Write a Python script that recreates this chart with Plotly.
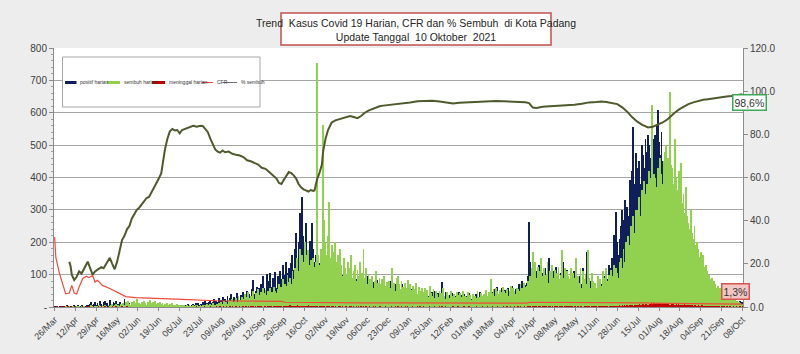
import plotly.graph_objects as go
import pandas as pd

# ---------------- DATA (daily, starting 26 Mar 2020) ----------------
start_date = "2020-03-26"

positif_harian = [
    1,0,2,0,1,3,0, 2,1,0,4,2,1,3, 3,2,5,1,0,4,2, 2,5,1,3,2,4,6,
    3,8,14,5,9,16,7, 12,6,18,9,4,15,20, 8,13,5,22,10,7,17, 11,19,6,9,14,4,8,
    5,26,9,3,7,12,4, 6,2,9,4,3,7,2, 4,1,6,3,2,5,1, 3,5,2,1,4,2,6,
    2,4,1,3,5,2,3, 1,3,2,6,2,4,1, 3,1,5,2,4,3,7, 4,2,6,3,8,5,3,
    6,9,4,11,7,13,5, 10,8,15,6,18,12,9, 14,22,11,17,25,13,19, 16,28,12,21,32,18,24,
    20,35,15,28,40,22,30, 25,18,42,30,22,38,27, 45,32,28,50,36,41,30, 55,83,40,48,62,35,58,
    70,52,95,60,45,102,68, 80,105,62,90,75,108,58, 95,72,110,85,130,100,78, 140,105,120,92,135,160,115,
    180,228,150,200,290,175,340, 220,195,260,170,150,205,190, 258,180,140,160,120,155,135, 110,145,100,125,90,118,95,
    105,85,98,75,110,80,92, 70,95,82,65,100,78,88, 75,92,68,85,100,72,80, 95,70,88,62,78,90,65,
    72,85,60,95,70,58,80, 65,78,55,70,82,60,75, 58,72,50,68,45,62,70, 55,80,48,65,52,70,60,
    89,62,55,70,48,60,52, 58,45,65,40,55,62,38, 50,42,35,60,45,38,52, 40,55,30,48,35,42,28,
    45,32,50,38,25,42,35, 30,78,40,28,45,35,22, 38,25,42,30,20,35,28, 32,45,22,38,28,40,25,
    35,20,42,30,25,38,22, 28,40,32,22,45,30,25, 38,30,48,25,42,35,30, 45,32,55,40,62,35,50,
    42,58,38,52,45,35,60, 48,40,65,52,38,55,45, 58,70,50,80,62,55,68, 75,95,263,140,110,85,120,
    90,110,75,130,95,80,105, 85,120,70,100,150,90,78, 95,110,80,125,70,100,88, 105,75,140,90,65,115,80,
    70,95,60,85,110,75,90, 80,95,60,70,120,85,60, 170,90,65,80,55,75,60, 65,50,80,60,45,70,85,
    95,70,110,85,130,100,120, 150,222,180,294,200,160,210, 250,300,270,330,240,310,280, 392,350,420,556,380,475,430,
    400,450,380,500,470,430,520, 480,532,500,460,550,520,490, 530,560,608,510,470,540,450, 420,380,400,350,370,320,340,
    300,280,310,260,240,270,230, 220,200,190,210,170,180,160, 150,140,130,145,120,110,125, 100,90,95,80,85,70,75,
    65,60,70,55,50,58,45, 48,40,52,38,35,42,30, 32,28,35,25,22,30,20, 22,18,25,15,20,14,18,
    12,15,
]

sembuh_harian = [
    0,0,0,0,0,0,0, 0,0,1,0,0,2,0, 0,1,0,0,2,0,1, 0,3,0,1,0,2,0,
    1,0,4,2,0,3,1, 2,5,0,3,6,1,4, 3,0,7,2,5,8,1, 4,9,2,6,3,10,5,
    12,6,15,8,20,10,7, 14,9,18,11,24,8,13, 10,16,7,20,12,6,15, 9,22,11,14,8,18,10,
    12,7,16,9,13,5,10, 8,12,4,9,6,11,5, 6,3,8,4,7,2,5, 4,6,2,5,3,7,2,
    3,5,1,4,6,2,3, 5,2,7,3,4,8,2, 6,9,4,11,7,5,10, 8,12,6,15,10,18,9,
    15,10,22,12,18,25,14, 20,28,15,35,22,18,30, 25,40,22,32,45,28,35, 30,48,26,42,35,55,38,
    45,36,60,42,52,38,48, 40,58,45,35,62,50,44, 55,70,48,62,85,58,72, 65,100,78,90,70,110,85,
    120,95,150,110,180,130,160, 140,200,120,160,175,130,145, 110,150,125,140,753,160,130, 180,150,562,270,200,160,220,
    325,150,190,120,170,200,140, 160,110,180,130,95,150,120, 100,140,85,120,160,90,110, 130,80,115,95,140,75,105,
    180,90,120,70,100,85,65, 95,60,80,110,55,75,90, 70,85,50,95,65,78,55, 80,60,120,55,75,48,90,
    95,70,55,80,62,50,75, 60,83,45,70,52,65,40, 55,75,40,62,48,35,58, 45,60,38,52,30,65,42,
    35,55,28,48,40,32,50, 42,30,58,35,25,45,38, 28,50,35,22,40,30,45, 38,25,42,30,48,20,35,
    30,45,25,38,22,40,28, 35,28,48,30,25,42,33, 40,30,52,35,45,38,85, 42,55,35,60,48,40,52,
    45,38,62,50,42,55,35, 50,65,42,58,48,40,60, 55,48,70,60,52,75,62, 65,80,60,95,120,171,110,
    140,90,125,80,110,150,95, 120,85,100,140,75,110,95, 130,90,115,80,105,125,85, 100,175,90,120,80,110,95,
    85,120,70,105,90,150,80, 95,75,120,60,110,85,100, 70,175,90,60,105,80,55, 75,60,95,50,85,65,110,
    90,70,120,80,100,75,115, 95,130,85,120,105,90,140, 150,120,180,140,200,165,220, 190,250,210,280,230,300,260,
    300,340,280,360,320,390,350, 380,350,420,400,623,380,410, 400,370,430,390,460,410,380, 450,480,500,460,420,665,440,
    430,380,520,400,360,420,380, 445,320,350,290,371,280,260, 240,300,228,210,250,190,200, 180,156,170,140,160,125,130,
    110,95,100,85,90,75,80, 70,60,65,55,58,45,50, 40,45,35,38,30,32,25, 28,22,25,18,20,15,12,
    10,8,
]

meninggal_harian = [
    0,0,1,0,0,0,1, 0,1,0,0,1,0,0, 1,0,0,1,0,0,0, 0,0,1,0,0,1,0,
    1,0,0,0,1,0,0, 0,1,0,1,0,0,1, 0,0,1,0,0,1,0, 0,1,0,0,0,0,1,
    0,0,0,1,0,0,0, 0,0,0,0,0,0,0, 0,0,0,0,0,0,0, 0,0,0,0,0,0,0,
    0,0,0,0,0,0,0, 0,0,0,0,0,0,0, 0,0,0,0,0,0,0, 0,0,0,0,0,0,0,
    0,0,0,0,1,0,0, 0,0,0,1,0,0,0, 0,1,0,0,0,0,1, 0,0,1,0,0,1,0,
    1,0,0,1,0,1,0, 0,1,0,0,2,0,1, 1,0,2,0,1,0,1, 2,1,0,1,0,2,1,
    1,2,0,1,3,0,2, 2,1,3,0,2,1,2, 3,1,2,2,0,3,1, 2,3,1,4,2,1,3,
    3,2,4,1,3,2,2, 2,3,1,2,4,1,2, 1,2,3,1,2,0,2, 2,1,1,3,0,2,1,
    1,0,2,1,0,1,0, 0,1,1,0,2,0,1, 1,0,0,1,1,0,2, 0,1,0,2,0,1,0,
    1,0,1,0,0,2,0, 0,1,0,1,0,0,1, 1,0,0,0,1,0,0, 0,0,1,0,0,1,0,
    1,0,0,1,0,0,1, 0,1,0,0,0,1,0, 0,0,1,0,1,0,0, 1,0,0,0,0,1,0,
    0,0,1,0,0,0,1, 0,1,0,0,1,0,0, 0,0,0,1,0,0,0, 1,0,0,0,0,1,0,
    0,0,1,0,0,0,0, 0,1,0,0,0,0,1, 0,0,0,1,0,0,0, 1,0,0,0,1,0,0,
    0,0,1,0,0,1,0, 0,1,0,0,1,0,0, 1,0,1,0,0,1,0, 0,1,2,1,0,1,1,
    1,2,0,1,1,0,2, 2,1,1,0,2,1,0, 1,0,2,1,1,0,1, 2,1,0,1,2,1,1,
    1,2,1,0,1,2,0, 1,0,2,1,0,1,2, 2,1,1,0,2,1,1, 1,2,0,1,1,2,1,
    2,1,2,1,0,2,1, 2,3,1,2,3,2,4, 3,4,2,5,3,4,3, 5,4,6,3,7,5,6,
    6,8,5,7,9,6,8, 9,7,10,8,12,9,11, 10,12,9,11,8,13,10, 11,9,12,8,10,7,9,
    8,10,7,9,6,8,7, 6,7,5,8,6,4,5, 5,4,6,3,5,4,3, 4,3,2,4,3,2,3,
    2,3,1,2,2,1,2, 1,2,1,1,0,2,1, 1,0,1,1,0,1,0, 0,1,0,1,0,0,1,
    0,1,
]

# CFR (%) readings: day offset since 26 Mar 2020, value
cfr_day = [0, 1, 4, 7, 9, 12, 14, 16, 18, 20, 23, 26, 28, 31, 33, 35, 39, 45, 50, 54, 58, 66, 77,
           104, 132, 160, 185, 188, 200, 220, 250, 280, 320, 360, 385, 388, 420, 460, 480, 500,
           520, 540, 561]
cfr_val = [32.4, 23.0, 15.5, 10.0, 6.1, 6.5, 10.0, 6.5, 6.0, 9.3, 13.2, 14.3, 13.6, 14.6, 11.6, 12.4,
           10.0, 8.6, 7.1, 5.8, 4.8, 4.3, 4.0, 3.5, 2.9, 2.7, 2.6, 2.2, 2.1, 2.0, 1.9, 1.9, 1.9, 1.8,
           1.8, 2.2, 2.2, 2.1, 1.9, 1.7, 1.5, 1.4, 1.3]

# % sembuh readings: day offset since 26 Mar 2020, value
sembuh_pct_day = [12, 13, 14, 16, 18, 20, 22, 24, 26, 27, 28, 30, 31, 33, 36, 38, 40, 42, 44, 45, 47, 49,
                  51, 53, 55, 57, 59, 61, 63, 65, 67, 69, 71, 73, 75, 77, 79, 81, 83, 85, 87, 88, 90, 92,
                  94, 96, 98, 100, 102, 104, 106, 108, 110, 113, 116, 119, 121, 123, 125, 127, 129, 131,
                  133, 135, 137, 139, 142, 145, 148, 151, 154, 157, 160, 163, 166, 169, 172, 175, 178,
                  181, 183, 185, 187, 189, 191, 193, 195, 197, 199, 201, 203, 205, 207, 209, 211, 212,
                  214, 216, 218, 219, 221, 223, 226, 229, 232, 235, 238, 241, 244, 247, 250, 253, 256,
                  259, 262, 265, 268, 271, 274, 277, 280, 285, 290, 296, 302, 308, 314, 320, 325, 330,
                  336, 342, 348, 354, 360, 366, 372, 378, 384, 387, 390, 393, 398, 404, 410, 416, 420,
                  424, 430, 436, 442, 446, 450, 455, 459, 463, 467, 471, 475, 479, 484, 488, 492, 496,
                  500, 503, 506, 510, 514, 517, 521, 525, 529, 533, 538, 543, 548, 552, 556, 561]
sembuh_pct_val = [21.0, 19.0, 15.0, 12.5, 14.0, 16.5, 15.5, 18.0, 20.5, 21.0, 19.5, 16.0, 15.0, 16.5,
                  17.5, 18.5, 18.0, 20.0, 22.5, 22.8, 20.0, 17.5, 21.0, 26.0, 31.0, 33.0, 36.0, 37.5,
                  41.0, 43.0, 45.0, 46.0, 47.5, 49.0, 50.5, 51.0, 53.0, 55.0, 57.0, 59.5, 62.0, 66.0,
                  73.0, 78.0, 81.4, 82.5, 81.8, 82.0, 80.5, 82.0, 82.5, 83.0, 83.5, 84.0, 83.5, 84.0,
                  83.8, 82.5, 81.0, 78.0, 75.5, 73.0, 72.0, 71.5, 72.5, 71.7, 72.0, 71.0, 70.5, 70.2,
                  69.5, 68.0, 67.5, 66.8, 66.0, 64.5, 64.0, 62.5, 61.0, 59.5, 57.5, 57.0, 59.0, 61.0,
                  62.5, 62.0, 61.0, 59.5, 57.0, 55.5, 54.5, 54.0, 53.5, 54.2, 53.8, 54.0, 59.0, 62.0,
                  66.0, 72.0, 78.0, 82.0, 85.5, 86.5, 87.0, 87.5, 88.0, 88.5, 88.0, 87.5, 88.5, 90.0,
                  91.0, 91.7, 92.2, 93.0, 93.3, 93.5, 93.4, 93.8, 94.0, 94.2, 94.8, 95.3, 95.5, 95.6,
                  95.2, 94.6, 94.3, 94.6, 94.8, 94.7, 95.1, 95.4, 95.5, 95.3, 95.2, 95.0, 94.9, 94.5,
                  92.4, 92.2, 92.8, 93.0, 93.2, 93.5, 93.3, 93.7, 94.2, 94.8, 95.0, 95.2, 95.0, 94.6,
                  94.0, 92.5, 90.5, 88.0, 86.0, 84.5, 83.2, 83.5, 84.5, 85.5, 87.0, 88.8, 90.1, 91.8,
                  93.0, 94.0, 94.8, 95.5, 96.0, 96.3, 96.8, 97.2, 97.5, 97.8, 98.2, 98.6]

title_lines = ["Trend  Kasus Covid 19 Harian, CFR dan % Sembuh  di Kota Padang",
               "Update Tanggal  10 Oktober  2021"]
legend_labels = ["positif harian", "sembuh harian", "meninggal harian", "CFR", "% sembuh"]
last_sembuh_label = "98,6%"
last_cfr_label = "1,3%"

# ---------------- COLOURS ----------------
c_pos = "#0e1f5b"
c_semb = "#92d050"
c_men = "#c00000"
c_cfr = "#f04a3a"
c_pct = "#4e5a2c"
FONT = "Liberation Sans Narrow, Liberation Sans, Arial"

base = pd.Timestamp(start_date)
dates = pd.date_range(base, periods=len(positif_harian), freq="D")
cfr_dates = [base + pd.Timedelta(days=d) for d in cfr_day]
pct_dates = [base + pd.Timedelta(days=d) for d in sembuh_pct_day]
end_date = dates[-1]
day_ms = 86400000

fig = go.Figure()
fig.add_trace(go.Bar(x=dates, y=positif_harian, name=legend_labels[0], marker_color=c_pos,
                     marker_line_width=0, width=day_ms * 0.75))
fig.add_trace(go.Bar(x=dates[:len(sembuh_harian)], y=sembuh_harian, name=legend_labels[1],
                     marker_color=c_semb, marker_line_width=0, width=day_ms * 0.7))
fig.add_trace(go.Bar(x=dates[:len(meninggal_harian)], y=meninggal_harian, name=legend_labels[2],
                     marker_color=c_men, marker_line_width=0, width=day_ms * 0.25))
fig.add_trace(go.Scatter(x=cfr_dates, y=cfr_val, name=legend_labels[3], mode="lines",
                         line=dict(color=c_cfr, width=1.2), yaxis="y2"))
fig.add_trace(go.Scatter(x=pct_dates, y=sembuh_pct_val, name=legend_labels[4], mode="lines",
                         line=dict(color=c_pct, width=2), yaxis="y2"))

L, R, T, B = 54, 57, 48, 47
W, H = 800, 354
pw, ph = W - L - R, H - T - B


def px(x):
    return (x - L) / pw


def py(y):
    return (H - B - y) / ph


tickvals = pd.date_range(base, end_date, freq="17D")

fig.update_layout(
    width=W, height=H, margin=dict(l=L, r=R, t=T, b=B, autoexpand=False),
    paper_bgcolor="#ededed", plot_bgcolor="white",
    barmode="overlay", bargap=0, showlegend=False,
    font=dict(family=FONT, color="#404040", size=10),
    xaxis=dict(type="date", range=[base - pd.Timedelta(hours=12), end_date + pd.Timedelta(hours=12)],
               tickvals=list(tickvals), tickformat="%d/%b", tickangle=-45,
               tickfont=dict(size=9, color="#404040"), showgrid=False,
               showline=True, linecolor="#8c8c8c", ticks="outside", ticklen=3, tickcolor="#8c8c8c"),
    yaxis=dict(range=[0, 800], tickvals=list(range(0, 801, 100)),
               ticktext=["-"] + [str(v) for v in range(100, 801, 100)],
               showgrid=True, gridcolor="#a6a6a6", gridwidth=1, zeroline=False,
               showline=True, linecolor="#8c8c8c", ticks="outside", ticklen=4, tickcolor="#8c8c8c",
               minor=dict(ticks="outside", ticklen=2, dtick=20, tickcolor="#a0a0a0"),
               tickfont=dict(size=10, color="#404040")),
    yaxis2=dict(range=[0, 120], dtick=20, tickformat=".1f", overlaying="y", side="right",
                showgrid=False, zeroline=False, showline=True, linecolor="#8c8c8c",
                ticks="outside", ticklen=4, tickcolor="#8c8c8c",
                tickfont=dict(size=10, color="#404040")),
)

shapes = []
annotations = []

# title box
shapes.append(dict(type="rect", xref="paper", yref="paper", x0=px(281), x1=px(551), y0=py(45), y1=py(13),
                   fillcolor="white", line=dict(color="#c0504d", width=1.5), layer="above"))
annotations.append(dict(xref="paper", yref="paper", x=px(416), y=py(29.5), xanchor="center",
                        yanchor="middle", showarrow=False,
                        text="<br>".join(title_lines), align="center",
                        font=dict(size=10.5, color="#262626", family=FONT)))

# legend box (manual)
shapes.append(dict(type="rect", xref="paper", yref="paper", x0=px(62.5), x1=px(260), y0=py(107), y1=py(57),
                   fillcolor="white", line=dict(color="#a6a6a6", width=1), layer="above"))
ly = 82.5
leg_items = [("bar", c_pos, 65, 76.5, 78), ("bar", c_semb, 107, 120, 121.5),
             ("bar", c_men, 152, 165, 166.5), ("line", c_cfr, 202, 213, 214.5),
             ("line", "#707070", 223, 237, 238.5)]
for (kind, col, x0, x1, tx), lab in zip(leg_items, legend_labels):
    if kind == "bar":
        shapes.append(dict(type="rect", xref="paper", yref="paper", x0=px(x0), x1=px(x1),
                           y0=py(ly + 1.5), y1=py(ly - 1.5), fillcolor=col, line=dict(width=0), layer="above"))
    else:
        shapes.append(dict(type="line", xref="paper", yref="paper", x0=px(x0), x1=px(x1),
                           y0=py(ly), y1=py(ly), line=dict(color=col, width=1), layer="above"))
    annotations.append(dict(xref="paper", yref="paper", x=px(tx), y=py(ly), xanchor="left", yanchor="middle",
                            showarrow=False, text=lab, font=dict(size=5, color="#333333", family=FONT)))

# end labels
annotations.append(dict(xref="paper", yref="paper", x=px(749.5), y=py(102), xanchor="center",
                        yanchor="middle", showarrow=False,
                        text=last_sembuh_label, font=dict(size=10.5, color="#333333", family=FONT),
                        bgcolor="white", bordercolor="#3aa856", borderwidth=1.5, borderpad=1))
annotations.append(dict(xref="paper", yref="paper", x=px(735.5), y=py(291.5), xanchor="center",
                        yanchor="middle", showarrow=False,
                        text=last_cfr_label, font=dict(size=10.5, color="#333333", family=FONT),
                        bgcolor="#f2c6c2", bordercolor="#d9534f", borderwidth=1.5, borderpad=1))

fig.update_layout(shapes=shapes, annotations=annotations)
fig.write_html("out.html")
